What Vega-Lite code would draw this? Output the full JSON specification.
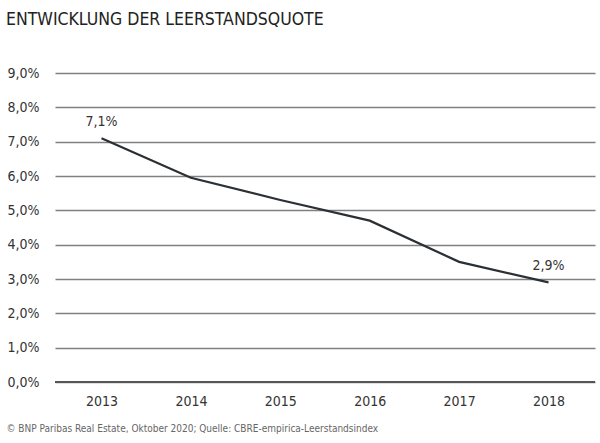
{
  "$schema": "https://vega.github.io/schema/vega-lite/v6.json",
  "autosize": "none",
  "width": 540,
  "height": 309,
  "padding": {"left": 55, "top": 73, "right": 5, "bottom": 61},
  "background": "white",
  "title": {
    "text": "ENTWICKLUNG DER LEERSTANDSQUOTE",
    "anchor": "start",
    "frame": "bounds",
    "offset": 38,
    "font": "Liberation Sans Narrow, DejaVu Sans Condensed",
    "fontSize": 17.5,
    "fontWeight": "normal",
    "color": "#222222"
  },
  "data": {
    "values": [
      {"jahr": "2013", "quote": 7.1, "label": "7,1%"},
      {"jahr": "2014", "quote": 5.95, "label": ""},
      {"jahr": "2015", "quote": 5.3, "label": ""},
      {"jahr": "2016", "quote": 4.7, "label": ""},
      {"jahr": "2017", "quote": 3.5, "label": ""},
      {"jahr": "2018", "quote": 2.9, "label": "2,9%"}
    ]
  },
  "encoding": {
    "x": {
      "field": "jahr",
      "type": "ordinal",
      "scale": {"type": "point", "padding": 0.52},
      "axis": {
        "title": "© BNP Paribas Real Estate, Oktober 2020; Quelle: CBRE-empirica-Leerstandsindex",
        "titleAnchor": "start",
        "titleAlign": "left",
        "titleX": -49,
        "titleY": 41,
        "titleFont": "Liberation Sans Narrow, DejaVu Sans Condensed",
        "titleFontSize": 10,
        "titleFontWeight": "normal",
        "titleColor": "#666666",
        "labelAngle": 0,
        "labelFont": "Liberation Sans Narrow, DejaVu Sans Condensed",
        "labelFontSize": 14,
        "labelColor": "#333333",
        "labelPadding": 12,
        "ticks": false,
        "domain": false,
        "grid": false
      }
    },
    "y": {
      "field": "quote",
      "type": "quantitative",
      "scale": {"domain": [0, 9], "nice": false},
      "axis": {
        "title": null,
        "values": [0, 1, 2, 3, 4, 5, 6, 7, 8, 9],
        "labelExpr": "replace(format(datum.value, '.1f'), '.', ',') + '%'",
        "labelFont": "Liberation Sans Narrow, DejaVu Sans Condensed",
        "labelFontSize": 14,
        "labelColor": "#333333",
        "labelPadding": 16,
        "ticks": false,
        "domain": false,
        "grid": true,
        "gridColor": "#808080",
        "gridWidth": 1.6
      }
    }
  },
  "layer": [
    {
      "mark": {"type": "rule", "color": "#555555", "strokeWidth": 2},
      "encoding": {"x": {"value": 0}, "x2": {"value": 540}, "y": {"datum": 0}}
    },
    {
      "mark": {"type": "line", "color": "#2b3035", "strokeWidth": 2.2}
    },
    {
      "mark": {
        "type": "text",
        "dy": -16,
        "font": "Liberation Sans Narrow, DejaVu Sans Condensed",
        "fontSize": 14,
        "color": "#333333"
      },
      "encoding": {"text": {"field": "label"}}
    }
  ],
  "config": {"view": {"stroke": null}}
}
